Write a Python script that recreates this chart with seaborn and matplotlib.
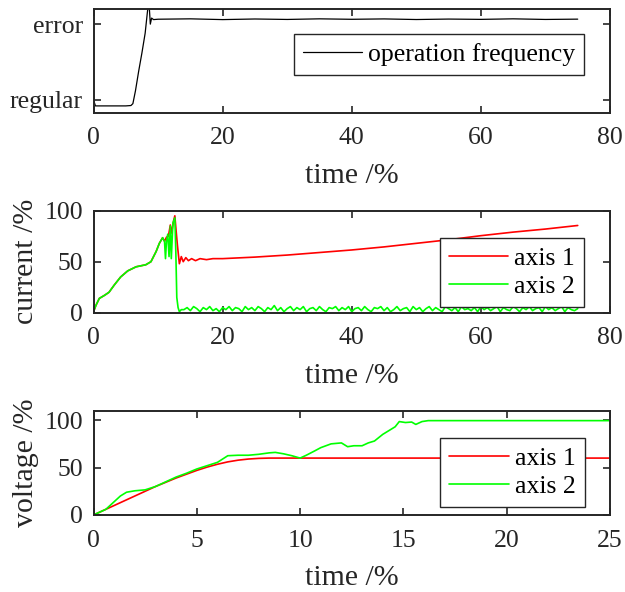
import matplotlib
matplotlib.use('Agg')
import matplotlib.pyplot as plt
import numpy as np
import pandas as pd
import seaborn as sns

# --- data ---
# top: operation frequency state (0 = regular, 1 = error)
t_freq = [0, 0.3, 1, 3, 5, 5.8, 6.1, 6.5, 7.0, 7.5, 8.0, 8.4, 8.6, 8.8, 9.0, 9.3, 10,
          15, 20, 25, 30, 35, 40, 45, 50, 55, 60, 65, 70, 75]
freq_state = [0.0, -0.08, -0.08, -0.08, -0.08, -0.075, -0.05, 0.12, 0.38, 0.62, 0.88, 1.2, 1.28,
              1.0, 1.08, 1.06, 1.065, 1.07, 1.06, 1.068, 1.062, 1.07, 1.064, 1.069, 1.061,
              1.067, 1.063, 1.07, 1.062, 1.066]
freq_ticks = [0, 1]
freq_ticklabels = ['regular', 'error']

# middle: current
t_cur1 = [0, 0.4, 0.9, 1.7, 2.4, 3.2, 4.2, 5.3, 6.6, 8.1, 8.9, 9.7, 10.2, 10.7, 11.0, 11.3,
          11.6, 11.9, 12.1, 12.4, 12.6, 12.8, 13.0, 13.3, 13.6, 13.9, 14.3, 14.7, 15.2, 15.8,
          16.5, 17.5, 18.5, 20, 25, 30, 35, 40, 45, 50, 55, 60, 65, 70, 75]
cur1 = [1, 7.5, 14, 17, 20, 27, 35, 41, 45, 47, 50, 60, 68, 73.5, 70, 74,
        75, 86, 78, 90, 95, 80, 66, 48, 55, 50, 54, 51, 53, 51,
        53, 52, 53, 53, 54.5, 56.5, 59, 61.5, 64.5, 68, 71.5, 75.5, 79, 82, 85.5]

t_cur2_start = [0, 0.4, 0.9, 1.7, 2.4, 3.2, 4.2, 5.3, 6.6, 8.1, 8.9, 9.7, 10.2, 10.7, 11.0,
                11.15, 11.3, 11.5, 11.7, 11.9, 12.05, 12.3, 12.6, 12.75, 12.9, 13.1, 13.3, 13.6]
cur2_start = [1, 7.5, 14, 17, 20, 27, 35, 41, 45, 47, 50, 60, 68, 73.5, 70,
              53, 70, 77, 55, 85, 53, 88, 93, 60, 15, 5, 1, 3]
t_cur2_ripple = np.arange(14.0, 75.5, 0.5)
cur2_ripple = [3, 5, 2, 6, 4, 1, 5, 3, 6, 2, 4, 1,
               5, 3, 6, 2, 5, 4, 1, 6, 3, 5, 2, 6,
               4, 1, 5, 3, 7, 2, 5, 1, 4, 6, 2, 5,
               3, 6, 1, 4, 5, 2, 6, 3, 1, 5, 4, 6,
               2, 5, 3, 6, 1, 4, 5, 2, 6, 3, 1, 5,
               4, 6, 2, 5, 1, 3, 6, 2, 4, 5, 1, 6,
               3, 5, 1, 4, 6, 2, 5, 3, 1, 6, 4, 2,
               5, 1, 6, 3, 4, 2, 5, 1, 6, 3, 5, 2,
               4, 6, 1, 5, 3, 2, 6, 4, 1, 5, 3, 6,
               2, 4, 5, 1, 6, 3, 5, 2, 4, 6, 1, 5,
               3, 2, 4]

# bottom: voltage
t_v1 = [0, 0.5, 1, 1.5, 2, 2.5, 3, 3.5, 4, 4.5, 5, 5.5, 6, 6.5, 7, 7.5, 8, 8.5, 9, 25]
v1 = [0, 5, 10, 15, 20, 25, 30, 34.5, 39, 43, 47, 50.5, 53.5, 56, 57.8, 59, 59.7, 60, 60, 60]
t_v2 = [0, 0.3, 0.6, 1.0, 1.3, 1.6, 2.0, 2.5, 3.0, 3.5, 4, 4.5, 5, 5.5, 6, 6.5, 7, 7.5, 8,
        8.5, 8.8, 9.2, 9.6, 10.0, 10.3, 10.7, 11.0, 11.5, 12.0, 12.3, 12.6, 13.0, 13.3, 13.6,
        14.0, 14.3, 14.6, 14.8, 15.1, 15.4, 15.6, 15.9, 16.2, 20, 25]
v2 = [0, 3, 6, 14, 20, 24, 25.5, 26.5, 30, 35, 40, 44, 48.5, 52, 55.5, 62.5, 63, 63, 64,
      65.5, 66, 64.5, 62.5, 60, 63, 67.5, 71, 75, 76, 72, 73, 73, 76, 78,
      85, 89, 93, 98.5, 97.5, 98, 95.5, 98.5, 99.5, 99.5, 99.5]

df_cur2 = pd.DataFrame({'t': list(t_cur2_start) + list(t_cur2_ripple),
                        'v': cur2_start + cur2_ripple})

sns.set_theme(style='ticks')
plt.rcParams['font.family'] = ['Liberation Serif', 'DejaVu Serif']
plt.rcParams['axes.linewidth'] = 1.4
plt.rcParams['xtick.direction'] = 'in'
plt.rcParams['ytick.direction'] = 'in'
plt.rcParams['xtick.top'] = True
plt.rcParams['ytick.right'] = True

RED = '#ff0000'
GREEN = '#00ff00'
TICK_FS = 18.5
LABEL_FS = 21.5
LEG_FS = 18.5

fig = plt.figure(figsize=(6.25, 5.92), dpi=100)
left, width = 0.1496, 0.976 - 0.1496
ax1 = fig.add_axes([left, 0.8096, width, 0.1752])
ax2 = fig.add_axes([left, 0.4718, width, 0.1723])
ax3 = fig.add_axes([left, 0.1301, width, 0.1762])

sns.lineplot(x=t_freq, y=freq_state, ax=ax1, color='black', linewidth=0.9,
             label='operation frequency', estimator=None)
ax1.set_xlim(0, 80)
ax1.set_ylim(-0.17, 1.2)
ax1.set_yticks(freq_ticks)
ax1.set_yticklabels(freq_ticklabels)
ax1.set_xticks([0, 20, 40, 60, 80])

sns.lineplot(x=t_cur1, y=cur1, ax=ax2, color=RED, linewidth=1.2, label='axis 1', estimator=None)
sns.lineplot(data=df_cur2, x='t', y='v', ax=ax2, color=GREEN, linewidth=1.2, label='axis 2',
             estimator=None)
ax2.set_xlim(0, 80)
ax2.set_ylim(0, 100)
ax2.set_xticks([0, 20, 40, 60, 80])
ax2.set_yticks([0, 50, 100])
ax2.set_ylabel('current /%', fontsize=LABEL_FS, labelpad=4)

sns.lineplot(x=t_v1, y=v1, ax=ax3, color=RED, linewidth=1.2, label='axis 1', estimator=None)
sns.lineplot(x=t_v2, y=v2, ax=ax3, color=GREEN, linewidth=1.2, label='axis 2', estimator=None)
ax3.set_xlim(0, 25)
ax3.set_ylim(0, 110)
ax3.set_xticks([0, 5, 10, 15, 20, 25])
ax3.set_yticks([0, 50, 100])
ax3.set_ylabel('voltage /%', fontsize=LABEL_FS, labelpad=4)

leg_kw = dict(fontsize=LEG_FS, frameon=True, fancybox=False, framealpha=1,
              edgecolor='#262626', borderaxespad=0, handlelength=2.3,
              handletextpad=0.25, borderpad=0.35, labelspacing=0.2)
ax1.legend(loc='upper right', bbox_to_anchor=(0.95, 0.76), **leg_kw)
ax2.legend(loc='lower right', bbox_to_anchor=(0.95, 0.056), **leg_kw)
ax3.legend(loc='lower right', bbox_to_anchor=(0.951, 0.074), **leg_kw)

for ax in (ax1, ax2, ax3):
    ax.set_xlabel('time /%', fontsize=LABEL_FS, labelpad=10)
    ax.tick_params(labelsize=TICK_FS, length=5, width=1.2, color='#262626')
    ax.tick_params(axis='x', pad=10.5)
    ax.tick_params(axis='y', pad=7.5)
    for s in ax.spines.values():
        s.set_visible(True)
        s.set_color('#262626')
    for leg_text in ax.get_legend().get_texts():
        leg_text.set_color('black')
    ax.get_legend().get_frame().set_linewidth(1.0)

fig.savefig('out.png', dpi=100)
